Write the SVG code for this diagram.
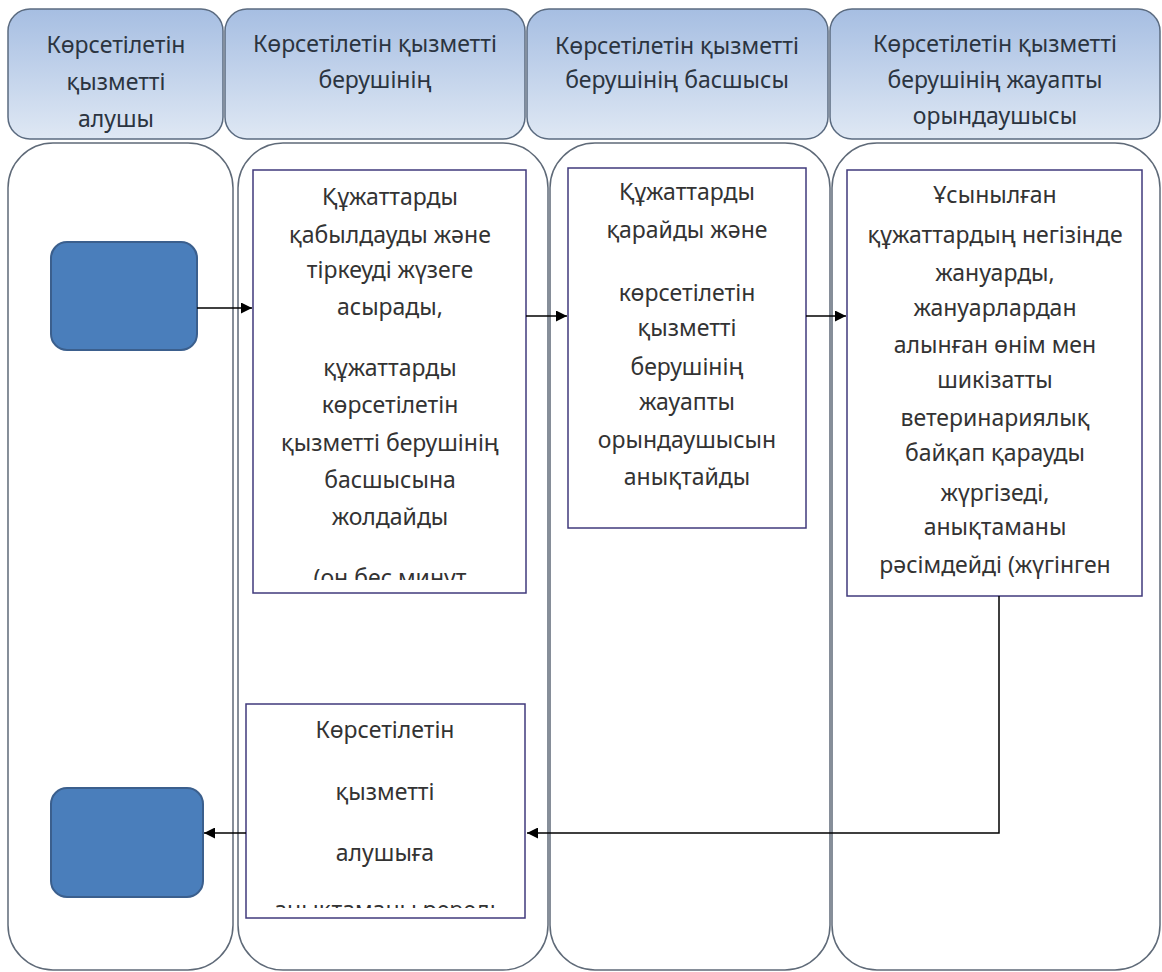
<svg xmlns="http://www.w3.org/2000/svg" width="1162" height="972" viewBox="0 0 1162 972">
<style>
.hdr{stroke:#5b6b80;stroke-width:1.5;fill:url(#hg)}
.lane{fill:#fff;stroke:#5f6a78;stroke-width:1.5}
.blue{fill:#4a7ebb;stroke:#3b5f8d;stroke-width:2}
.box{fill:#fff;stroke:#403a7c;stroke-width:1.5}
.t{font-family:"Noto Sans","Open Sans","DejaVu Sans",sans-serif;font-size:23px;fill:#333;text-anchor:middle}
.ht{font-family:"Noto Sans","Open Sans","DejaVu Sans",sans-serif;font-size:23px;fill:#2b3440;text-anchor:middle}
.c{fill:none;stroke:#000;stroke-width:1.5}
</style>
<defs>
<linearGradient id="hg" x1="0" y1="0" x2="0" y2="1">
<stop offset="0" stop-color="#a6bee2"/>
<stop offset="1" stop-color="#dfe8f4"/>
</linearGradient>
<marker id="ar" viewBox="0 0 10 10" refX="10" refY="5" markerWidth="11" markerHeight="11" markerUnits="userSpaceOnUse" orient="auto">
<path d="M0,0 L10,5 L0,10 z" fill="#000"/>
</marker>
<clipPath id="clipA"><rect x="253" y="170" width="273" height="410"/></clipPath>
<clipPath id="clipD"><rect x="246" y="905" width="279" height="3"/></clipPath>
<clipPath id="clipH1"><rect x="8" y="9" width="215" height="130"/></clipPath>
<clipPath id="clipH4"><rect x="830" y="9" width="330" height="130"/></clipPath>
</defs>
<rect width="1162" height="972" fill="#fff"/>

<g id="header-1">
<rect class="hdr" x="8" y="9" width="215" height="130" rx="22"/>
<g clip-path="url(#clipH1)">
<text class="ht" x="116" y="53">Көрсетілетін</text>
<text class="ht" x="116" y="90">қызметті</text>
<text class="ht" x="116" y="127">алушы</text>
</g>
</g>
<g id="header-2">
<rect class="hdr" x="225" y="9" width="300" height="130" rx="22"/>
<text class="ht" x="375" y="52">Көрсетілетін қызметті</text>
<text class="ht" x="375" y="88">берушінің</text>
</g>
<g id="header-3">
<rect class="hdr" x="527" y="9" width="301" height="130" rx="22"/>
<text class="ht" x="677" y="54">Көрсетілетін қызметті</text>
<text class="ht" x="677" y="88">берушінің басшысы</text>
</g>
<g id="header-4">
<rect class="hdr" x="830" y="9" width="330" height="130" rx="22"/>
<g clip-path="url(#clipH4)">
<text class="ht" x="995" y="52">Көрсетілетін қызметті</text>
<text class="ht" x="995" y="88">берушінің жауапты</text>
<text class="ht" x="995" y="124">орындаушысы</text>
</g>
</g>

<g id="lane-1"><rect class="lane" x="8" y="143" width="225" height="827" rx="45"/></g>
<g id="lane-2"><rect class="lane" x="238" y="143" width="310" height="827" rx="45"/></g>
<g id="lane-3"><rect class="lane" x="550" y="143" width="280" height="827" rx="45"/></g>
<g id="lane-4"><rect class="lane" x="832" y="143" width="328" height="827" rx="45"/></g>

<g id="start"><rect class="blue" x="51" y="242" width="146" height="108" rx="16"/></g>
<g id="end"><rect class="blue" x="51" y="788" width="152" height="109" rx="16"/></g>

<g id="box-a">
<rect class="box" x="253" y="170" width="273" height="423"/>
<g clip-path="url(#clipA)">
<text class="t" x="390" y="205">Құжаттарды</text>
<text class="t" x="390" y="243">қабылдауды және</text>
<text class="t" x="390" y="278">тіркеуді жүзеге</text>
<text class="t" x="390" y="315">асырады,</text>
<text class="t" x="390" y="376">құжаттарды</text>
<text class="t" x="390" y="413">көрсетілетін</text>
<text class="t" x="390" y="451">қызметті берушінің</text>
<text class="t" x="390" y="488">басшысына</text>
<text class="t" x="390" y="525">жолдайды</text>
<text class="t" x="390" y="586">(он бес минут</text>
</g>
</g>

<g id="box-b">
<rect class="box" x="568" y="168" width="238" height="360"/>
<text class="t" x="687" y="200">Құжаттарды</text>
<text class="t" x="687" y="238">қарайды және</text>
<text class="t" x="687" y="301">көрсетілетін</text>
<text class="t" x="687" y="336">қызметті</text>
<text class="t" x="687" y="375">берушінің</text>
<text class="t" x="687" y="410">жауапты</text>
<text class="t" x="687" y="448">орындаушысын</text>
<text class="t" x="687" y="485">анықтайды</text>
</g>

<g id="box-c">
<rect class="box" x="847" y="170" width="295" height="426"/>
<text class="t" x="995" y="203">Ұсынылған</text>
<text class="t" x="995" y="243">құжаттардың негізінде</text>
<text class="t" x="995" y="281">жануарды,</text>
<text class="t" x="995" y="316">жануарлардан</text>
<text class="t" x="995" y="353">алынған өнім мен</text>
<text class="t" x="995" y="388">шикізатты</text>
<text class="t" x="995" y="426">ветеринариялық</text>
<text class="t" x="995" y="461">байқап қарауды</text>
<text class="t" x="995" y="501">жүргізеді,</text>
<text class="t" x="995" y="535">анықтаманы</text>
<text class="t" x="995" y="573">рәсімдейді (жүгінген</text>
</g>

<g id="box-d">
<rect class="box" x="246" y="704" width="279" height="214"/>
<text class="t" x="385" y="738">Көрсетілетін</text>
<text class="t" x="385" y="800">қызметті</text>
<text class="t" x="385" y="861">алушыға</text>
<g clip-path="url(#clipD)">
<text class="t" x="385" y="918">анықтаманы береді</text>
</g>
</g>

<g id="connectors">
<line class="c" x1="197" y1="308" x2="252" y2="308" marker-end="url(#ar)"/>
<line class="c" x1="526" y1="316" x2="567" y2="316" marker-end="url(#ar)"/>
<line class="c" x1="806" y1="316" x2="846" y2="316" marker-end="url(#ar)"/>
<polyline class="c" points="999,596 999,833 527,833" marker-end="url(#ar)"/>
<line class="c" x1="246" y1="833" x2="204" y2="833" marker-end="url(#ar)"/>
</g>
</svg>
